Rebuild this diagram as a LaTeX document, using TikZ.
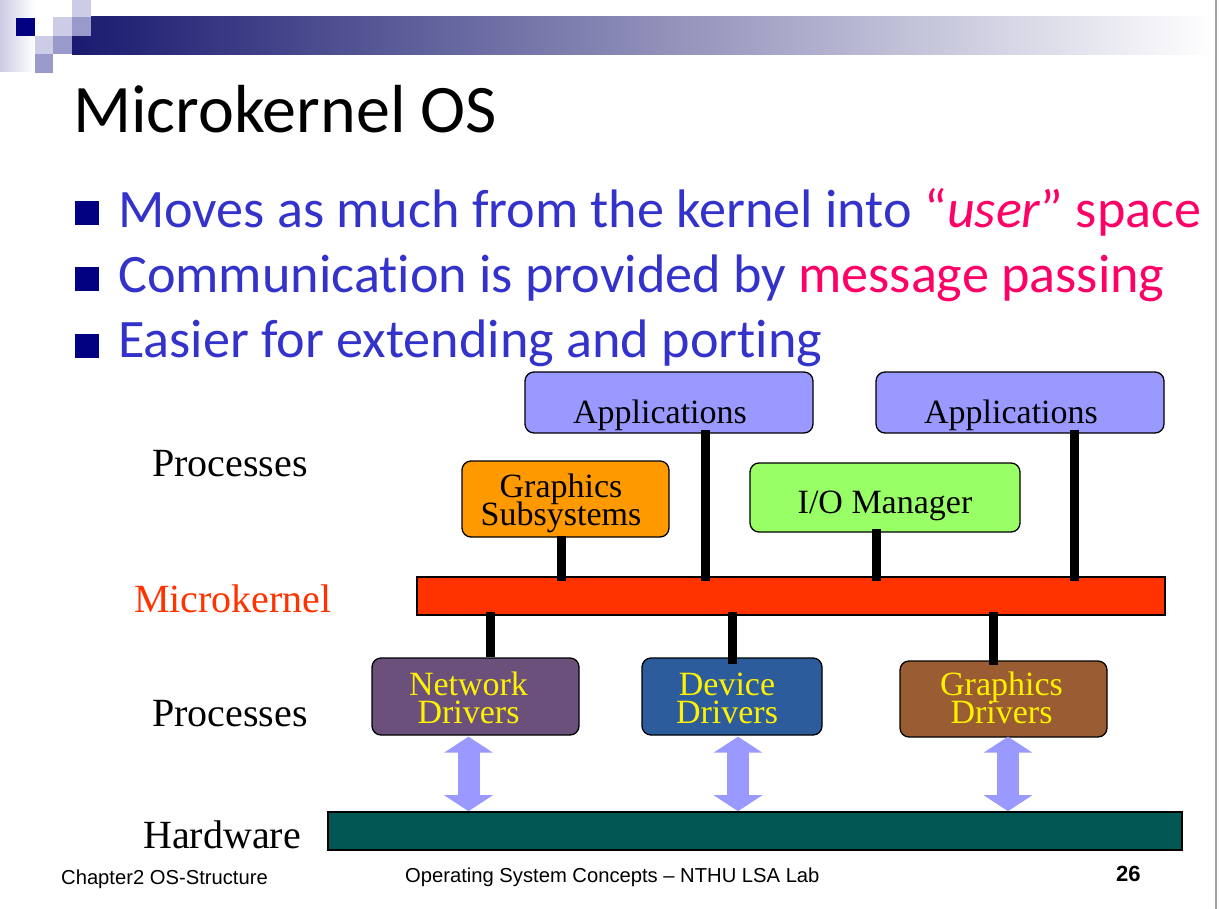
\documentclass[tikz,border=0pt]{standalone}
\usepackage{fontspec}
\setmainfont{Liberation Serif}
\newfontfamily\slidefont[Ligatures=NoCommon]{Carlito}
\newfontfamily\footfont{Liberation Sans}
\usetikzlibrary{calc,arrows.meta}

\definecolor{navy}{HTML}{000080}
\definecolor{bandnavy}{HTML}{1A1A70}
\definecolor{lightsq}{HTML}{CCCCE6}
\definecolor{midsq}{HTML}{9999CC}
\definecolor{bullettext}{HTML}{3333CC}
\definecolor{hot}{HTML}{FF0066}
\definecolor{appfill}{HTML}{9999FF}
\definecolor{gsfill}{HTML}{FF9900}
\definecolor{iofill}{HTML}{99FF66}
\definecolor{kernfill}{HTML}{FF3300}
\definecolor{netfill}{HTML}{6B507C}
\definecolor{devfill}{HTML}{2D5C9C}
\definecolor{gdfill}{HTML}{995C33}
\definecolor{hwfill}{HTML}{005753}
\definecolor{edgegray}{HTML}{A0A0A0}

% box text: baseline placed #1 below the box centre, shifted left by half of #2
\newcommand{\boxtext}[3]{\raisebox{-#1}[0pt][0pt]{#3}\kern#2}
% two-line box text: last baseline #1 below the centre, 28pt leading
\newcommand{\boxtextii}[4]{\raisebox{-#1}[0pt][0pt]{\vbox{\baselineskip=28pt\lineskiplimit=-60pt\lineskip=0pt
  \halign{\hfil##\hfil\cr#3\cr#4\cr}}}\kern#2}

\tikzset{
  box/.style={draw=black, line width=1.3pt, rounded corners=9pt, inner sep=0pt,
    font=\fontsize{34}{28}\selectfont},
  drvbox/.style={box, text=yellow},
  bar/.style={draw=black, line width=1.6pt, inner sep=0pt},
  conn/.style={line width=9pt, black},
  duplex/.style={line width=22pt, appfill,
    {Triangle[length=16pt,width=48pt]}-{Triangle[length=16pt,width=48pt]}},
  sidelabel/.style={anchor=base, inner sep=0pt, font=\fontsize{40}{40}\selectfont},
  bulletsq/.style={fill=navy},
  bullettxt/.style={anchor=base west, inner sep=0pt, text=bullettext,
    font=\slidefont\fontsize{54.2}{60}\selectfont},
  foot/.style={anchor=base west, inner sep=0pt, font=\footfont\fontsize{20.2}{22}\selectfont}
}

\begin{document}
\begin{tikzpicture}[x=1pt,y=-1pt]
\useasboundingbox (0,0) rectangle (1220,909);
\fill[white] (0,0) rectangle (1220,909);

% header decoration: fading strip, checker squares and gradient band
\shade[left color=lightsq, right color=white] (0,0) rectangle (35,72);
\shade[left color=bandnavy, right color=white] (72,17) rectangle (1215,55);
\fill[navy]    (16,18) rectangle (35,36);
\fill[lightsq] (53,17) rectangle (72,36);
\fill[lightsq] (72,0)  rectangle (91,17);
\fill[lightsq] (35,36) rectangle (53,54);
\fill[midsq]   (72,17) rectangle (91,36);
\fill[midsq]   (53,36) rectangle (72,54);
\fill[midsq]   (35,54) rectangle (53,73);
\draw[edgegray, line width=2.5pt] (1216,0) -- (1216,909);

% title and bullets
\node[anchor=base west, inner sep=0pt, font=\slidefont\fontsize{68}{70}\selectfont] (title) at (73,133) {Microkernel OS};

\fill[bulletsq] (75,201) rectangle (99,225);
\fill[bulletsq] (75,267) rectangle (99,291);
\fill[bulletsq] (75,334) rectangle (99,358);
\node[bullettxt] (b1) at (118,228) {Moves as much from the kernel into {\color{hot}“\textit{user}” space}};
\node[bullettxt] (b2) at (118,292) {Communication is provided by {\color{hot}message passing}};
\node[bullettxt] (b3) at (118,357) {Easier for extending and porting};

% layer captions
\node[sidelabel] (lp1) at (230,476) {Processes};
\node[sidelabel, text=kernfill] (lmk) at (233,612) {Microkernel};
\node[sidelabel] (lp2) at (230,726) {Processes};
\node[sidelabel] (lhw) at (222,848) {Hardware};

% user-level servers and applications
\node[box, fill=appfill, minimum width=288pt, minimum height=61pt] (app1) at (669,402.5) {\boxtext{20.5pt}{18pt}{Applications}};
\node[box, fill=appfill, minimum width=288pt, minimum height=61pt] (app2) at (1020,402.5) {\boxtext{20.5pt}{18pt}{Applications}};
\node[box, fill=gsfill, minimum width=207pt, minimum height=76pt] (gs) at (565.5,499) {\boxtextii{26pt}{9pt}{Graphics}{Subsystems}};
\node[box, fill=iofill, minimum width=270pt, minimum height=69pt] (io) at (885,497.5) {\boxtext{15.5pt}{0pt}{I/O Manager}};

% kernel and hardware bars
\node[bar, fill=kernfill, minimum width=748pt, minimum height=38pt] (mk) at (791,596) {};
\node[bar, fill=hwfill, minimum width=854pt, minimum height=38pt] (hw) at (755,831) {};

% driver processes
\node[drvbox, fill=netfill, minimum width=207pt, minimum height=77pt] (net) at (475.5,696.5) {\boxtextii{26.5pt}{14pt}{Network}{Drivers}};
\node[drvbox, fill=devfill, minimum width=180pt, minimum height=77pt] (dev) at (732,696.5) {\boxtextii{26.5pt}{10pt}{Device}{Drivers}};
\node[drvbox, fill=gdfill, minimum width=207pt, minimum height=76pt] (gd) at (1003.5,699) {\boxtextii{24pt}{4pt}{Graphics}{Drivers}};

% attachment columns
\coordinate (kgs) at (561.5,0);
\coordinate (kap1) at (705.5,0);
\coordinate (kio) at (876.5,0);
\coordinate (kap2) at (1074.5,0);
\coordinate (knet) at (490,0);
\coordinate (kdev) at (732.5,0);
\coordinate (kgd) at (993.5,0);
\coordinate (hnet) at (468.5,0);
\coordinate (hdev) at (738,0);
\coordinate (hgd) at (1008,0);

% message links to the microkernel
\draw[conn, shorten <=-2pt, shorten >=-5pt] (gs.south -| kgs) -- (mk.north -| kgs);
\draw[conn, shorten <=-4pt, shorten >=-5pt] (app1.south -| kap1) -- (mk.north -| kap1);
\draw[conn, shorten <=-4pt, shorten >=-5pt] (io.south -| kio) -- (mk.north -| kio);
\draw[conn, shorten <=-4pt, shorten >=-5pt] (app2.south -| kap2) -- (mk.north -| kap2);
\draw[conn, shorten <=-4pt, shorten >=0pt] (mk.south -| knet) -- (net.north -| knet);
\draw[conn, shorten <=-4pt, shorten >=-7pt] (mk.south -| kdev) -- (dev.north -| kdev);
\draw[conn, shorten <=-4pt, shorten >=-5pt] (mk.south -| kgd) -- (gd.north -| kgd);

% driver to hardware traffic
\draw[duplex, shorten <=1pt] (net.south -| hnet) -- (hw.north -| hnet);
\draw[duplex, shorten <=1pt] (dev.south -| hdev) -- (hw.north -| hdev);
\draw[duplex, shorten <=-1pt] (gd.south -| hgd) -- (hw.north -| hgd);

% footer
\node[foot] (f1) at (61,884) {Chapter2 OS-Structure};
\node[foot] (f2) at (405,882) {Operating System Concepts – NTHU LSA Lab};
\node[foot, font=\footfont\bfseries\fontsize{22}{24}\selectfont] (f3) at (1116,881) {26};
\end{tikzpicture}
\end{document}
